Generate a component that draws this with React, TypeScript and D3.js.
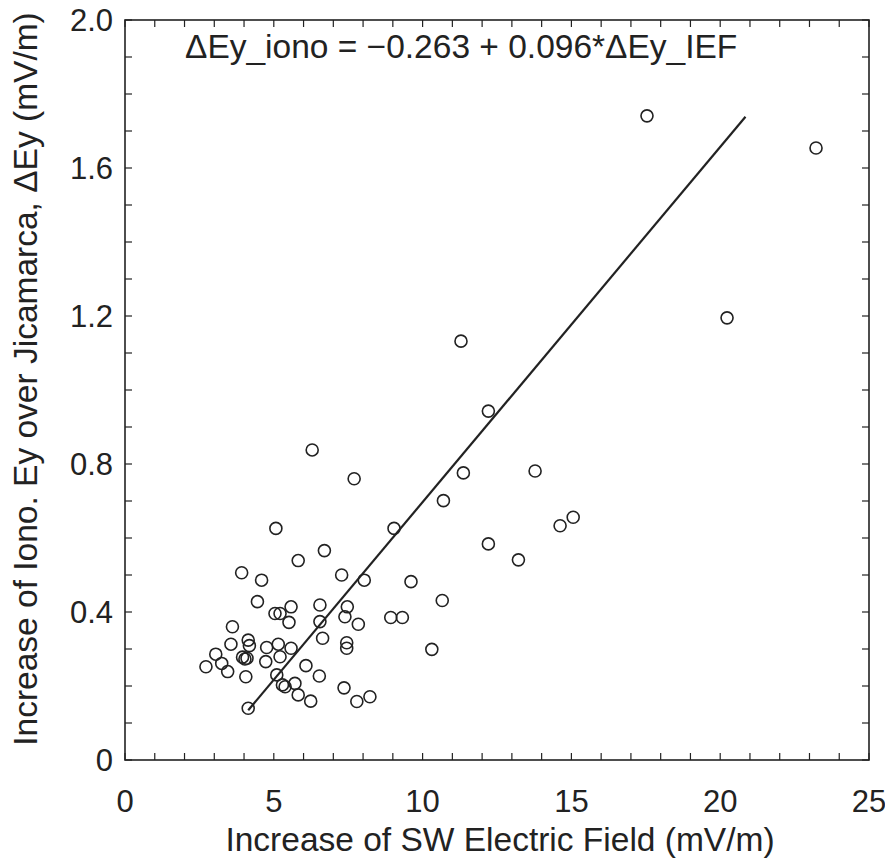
import React from "react";
import * as d3 from "d3";

const xValues = [
  2.72, 3.05, 3.25, 3.45, 3.61, 3.56, 3.92, 4.59, 4.14, 4.18,
  3.95, 4.03, 4.1, 4.06, 4.14, 4.45, 5.04, 5.21, 5.58, 5.51,
  4.76, 5.15, 5.58, 4.73, 5.21, 5.1, 5.29, 5.38, 5.71, 5.82,
  6.24, 6.08, 6.53, 6.55, 6.55, 6.64, 7.47, 7.39, 7.84, 7.45,
  7.45, 7.36, 7.79, 8.23, 8.93, 9.32, 9.61, 10.66, 10.31, 5.82,
  6.7, 7.28, 8.04, 5.07, 6.29, 7.7, 9.04, 10.7, 11.37, 12.21,
  12.21, 13.22, 13.78, 14.62, 15.06, 11.29, 17.54, 20.23, 23.22,
];
const yValues = [
  0.252, 0.286, 0.261, 0.239, 0.36, 0.313, 0.506, 0.486, 0.324, 0.309,
  0.278, 0.273, 0.275, 0.225, 0.14, 0.428, 0.396, 0.396, 0.414, 0.372,
  0.304, 0.313, 0.302, 0.266, 0.279, 0.23, 0.203, 0.198, 0.207, 0.176,
  0.159, 0.255, 0.227, 0.419, 0.374, 0.329, 0.414, 0.387, 0.367, 0.317,
  0.302, 0.195, 0.158, 0.171, 0.385, 0.385, 0.482, 0.431, 0.299, 0.539,
  0.566, 0.5, 0.486, 0.626, 0.838, 0.76, 0.626, 0.701, 0.776, 0.943,
  0.584, 0.541, 0.781, 0.633, 0.656, 1.132, 1.741, 1.195, 1.654,
];

const xTickValues = [0, 5, 10, 15, 20, 25];
const xTickLabels = ["0", "5", "10", "15", "20", "25"];
const yTickValues = [0, 0.4, 0.8, 1.2, 1.6, 2.0];
const yTickLabels = ["0", "0.4", "0.8", "1.2", "1.6", "2.0"];

const fitIntercept = -0.263;
const fitSlope = 0.096;
const fitXRange = [4.14, 20.85];

const equationText = "\u0394Ey_iono = \u22120.263 + 0.096*\u0394Ey_IEF";
const xTitle = "Increase of SW Electric Field (mV/m)";
const yTitle = "Increase of Iono. Ey over Jicamarca, \u0394Ey (mV/m)";

const W = 885;
const H = 860;
const M = { left: 125, right: 869, top: 20, bottom: 760 };
const FONT = "'Liberation Sans', Arial, Helvetica, sans-serif";
const INK = "#222";

export default function App() {
  const x = d3.scaleLinear().domain([0, 25]).range([M.left, M.right]);
  const y = d3.scaleLinear().domain([0, 2]).range([M.bottom, M.top]);
  const xMinor = d3.range(0, 25.001, 1);
  const yMinor = d3.range(0, 2.0001, 0.1);
  const tickLen = 7;
  const fitLine = d3
    .line<number>()
    .x((v) => x(v))
    .y((v) => y(fitIntercept + fitSlope * v));

  return (
    <svg
      width={W}
      height={H}
      style={{ position: "absolute", left: 0, top: 0, background: "#fff" }}
      fontFamily={FONT}
    >
      <rect x={0} y={0} width={W} height={H} fill="#fff" />
      <g stroke={INK} strokeWidth={1.2}>
        {xMinor.map((v, i) => (
          <g key={"xt" + i}>
            <line x1={x(v)} x2={x(v)} y1={M.bottom} y2={M.bottom - tickLen} />
            <line x1={x(v)} x2={x(v)} y1={M.top} y2={M.top + tickLen} />
          </g>
        ))}
        {yMinor.map((v, i) => (
          <g key={"yt" + i}>
            <line x1={M.left} x2={M.left + tickLen} y1={y(v)} y2={y(v)} />
            <line x1={M.right} x2={M.right - tickLen} y1={y(v)} y2={y(v)} />
          </g>
        ))}
      </g>
      <rect
        x={M.left}
        y={M.top}
        width={M.right - M.left}
        height={M.bottom - M.top}
        fill="none"
        stroke={INK}
        strokeWidth={1.6}
      />
      <g fill={INK} fontSize={31}>
        {xTickValues.map((v, i) => (
          <text key={"xl" + i} x={x(v)} y={812} textAnchor="middle">
            {xTickLabels[i]}
          </text>
        ))}
        {yTickValues.map((v, i) => (
          <text key={"yl" + i} x={113} y={y(v) + 11} textAnchor="end">
            {yTickLabels[i]}
          </text>
        ))}
      </g>
      <text x={500} y={851} textAnchor="middle" fontSize={33.5} fill={INK}>
        {xTitle}
      </text>
      <text
        transform={`translate(37, 379) rotate(-90)`}
        textAnchor="middle"
        fontSize={33.5}
        fill={INK}
      >
        {yTitle}
      </text>
      <text x={185} y={58} fontSize={33.5} fill={INK}>
        {equationText}
      </text>
      <path
        d={fitLine(fitXRange) || ""}
        fill="none"
        stroke={INK}
        strokeWidth={2.2}
      />
      <g fill="none" stroke={INK} strokeWidth={1.6}>
        {xValues.map((v, i) => (
          <circle key={"p" + i} cx={x(v)} cy={y(yValues[i])} r={6} />
        ))}
      </g>
    </svg>
  );
}
